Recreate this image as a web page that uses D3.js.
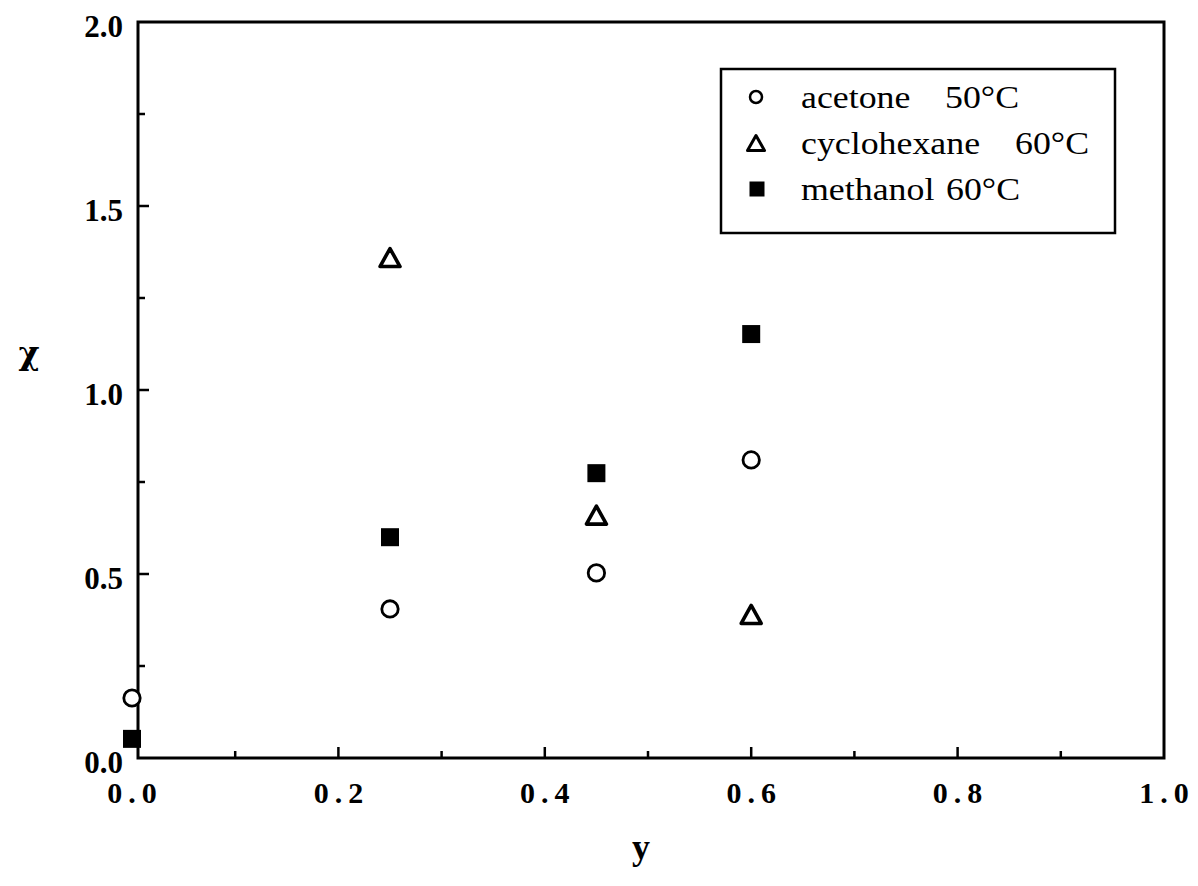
<!DOCTYPE html>
<html><head><meta charset="utf-8">
<script src="https://cdn.jsdelivr.net/npm/d3@7"></script>
<style>body{margin:0;background:#fff}svg{display:block}</style>
</head><body>
<svg id="c" width="1198" height="886"></svg>
<script>
const xTicksMajor = [0.0, 0.2, 0.4, 0.6, 0.8, 1.0];
const xTickLabels = ["0.0", "0.2", "0.4", "0.6", "0.8", "1.0"];
const xTicksMinor = [0.1, 0.3, 0.5, 0.7, 0.9];
const yTicksMajor = [0.0, 0.5, 1.0, 1.5, 2.0];
const yTickLabels = ["0.0", "0.5", "1.0", "1.5", "2.0"];
const yTicksMinor = [0.25, 0.75, 1.25, 1.75];

const acetoneX = [0.0, 0.25, 0.45, 0.6];
const acetoneY = [0.163, 0.405, 0.503, 0.81];
const cyclohexaneX = [0.25, 0.45, 0.6];
const cyclohexaneY = [1.36, 0.66, 0.39];
const methanolX = [0.0, 0.25, 0.45, 0.6];
const methanolY = [0.052, 0.60, 0.774, 1.152];

const legendNames = ["acetone", "cyclohexane", "methanol"];
const legendTemps = ["50°C", "60°C", "60°C"];

const svg = d3.select("#c");
const L = 138, R = 1164, T = 22, B = 758;
const x = d3.scaleLinear().domain([0, 1]).range([132, 1164]);
const y = d3.scaleLinear().domain([0, 2]).range([B, T]);

const serif = "'Liberation Serif','Times New Roman',serif";

// frame
svg.append("rect").attr("x", L).attr("y", T).attr("width", R - L).attr("height", B - T)
  .attr("fill", "none").attr("stroke", "#000").attr("stroke-width", 3);

// ticks (inward)
const g = svg.append("g").attr("stroke", "#000").attr("stroke-width", 2.5);
xTicksMajor.slice(1, -1).forEach(v => g.append("line").attr("x1", x(v)).attr("x2", x(v)).attr("y1", B).attr("y2", B - 11));
xTicksMinor.forEach(v => g.append("line").attr("x1", x(v)).attr("x2", x(v)).attr("y1", B).attr("y2", B - 7));
yTicksMajor.slice(1, -1).forEach(v => g.append("line").attr("x1", L).attr("x2", L + 11).attr("y1", y(v)).attr("y2", y(v)));
yTicksMinor.forEach(v => g.append("line").attr("x1", L).attr("x2", L + 7).attr("y1", y(v)).attr("y2", y(v)));

// tick labels
xTicksMajor.forEach((v, i) => svg.append("text").attr("x", x(v) + 3).attr("y", 803)
  .attr("text-anchor", "middle").attr("font-family", serif).attr("font-weight", "bold")
  .attr("font-size", 30).attr("letter-spacing", "6px").text(xTickLabels[i]));
yTicksMajor.forEach((v, i) => svg.append("text").attr("x", 123).attr("y", y(v) + 15)
  .attr("text-anchor", "end").attr("font-family", serif).attr("font-weight", "bold")
  .attr("font-size", 31).text(yTickLabels[i]));

// axis titles
svg.append("text").attr("x", 29).attr("y", 364).attr("text-anchor", "middle")
  .attr("font-family", "'DejaVu Serif',serif").attr("font-weight", "bold").attr("font-size", 32).text("χ");
svg.append("text").attr("x", 641).attr("y", 859).attr("text-anchor", "middle")
  .attr("font-family", serif).attr("font-weight", "bold").attr("font-size", 36).text("y");

// marker helpers
function circle(sel, cx, cy, r, sw) {
  sel.append("circle").attr("cx", cx).attr("cy", cy).attr("r", r)
    .attr("fill", "#fff").attr("stroke", "#000").attr("stroke-width", sw);
}
function tri(sel, cx, cy, w, h, sw) {
  sel.append("path").attr("d", `M${cx},${cy - h / 2}L${cx + w / 2},${cy + h / 2}L${cx - w / 2},${cy + h / 2}Z`)
    .attr("fill", "#fff").attr("stroke", "#000").attr("stroke-width", sw).attr("stroke-linejoin", "round");
}
function sq(sel, cx, cy, s) {
  sel.append("rect").attr("x", cx - s / 2).attr("y", cy - s / 2).attr("width", s).attr("height", s).attr("fill", "#000");
}

const m = svg.append("g");
cyclohexaneX.forEach((v, i) => tri(m, x(v), y(cyclohexaneY[i]), 20, 18, 3.6));
acetoneX.forEach((v, i) => circle(m, x(v), y(acetoneY[i]), 8.2, 2.8));
methanolX.forEach((v, i) => sq(m, x(v), y(methanolY[i]), 18));

// legend
const lg = svg.append("g");
lg.append("rect").attr("x", 721).attr("y", 69).attr("width", 394).attr("height", 164)
  .attr("fill", "#fff").attr("stroke", "#000").attr("stroke-width", 2.5);
const rows = [97, 143, 189];
circle(lg, 756, rows[0], 6, 2.5);
tri(lg, 756, rows[1], 17, 15, 3);
sq(lg, 757, rows[2], 15);
const tempX = [945, 1015, 946];
const sx = 1.12;
legendNames.forEach((t, i) => {
  lg.append("text").attr("transform", `translate(801,${rows[i] + 11}) scale(${sx},1)`)
    .attr("font-family", serif).attr("font-size", 32).text(t);
  lg.append("text").attr("transform", `translate(${tempX[i]},${rows[i] + 11}) scale(${sx},1)`)
    .attr("font-family", serif).attr("font-size", 32).text(legendTemps[i]);
});
</script>
</body></html>
